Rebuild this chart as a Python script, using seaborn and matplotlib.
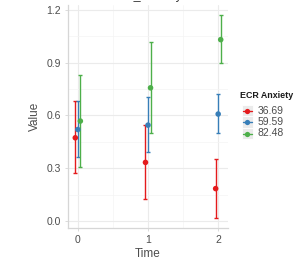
import numpy as np
import pandas as pd
import matplotlib
matplotlib.use("Agg")
import matplotlib.pyplot as plt
import seaborn as sns
from matplotlib.lines import Line2D
from matplotlib.patches import Rectangle

# ---- data ----
times = [0, 1, 2]
groups = ["36.69", "59.59", "82.48"]
val_3669 = [0.473, 0.333, 0.184]
lo_3669 = [0.270, 0.125, 0.017]
hi_3669 = [0.682, 0.545, 0.350]
val_5959 = [0.520, 0.545, 0.608]
lo_5959 = [0.361, 0.390, 0.498]
hi_5959 = [0.682, 0.703, 0.720]
val_8248 = [0.568, 0.757, 1.031]
lo_8248 = [0.306, 0.498, 0.898]
hi_8248 = [0.830, 1.019, 1.170]
colors = ["#E41A1C", "#377EB8", "#4DAF4A"]

rows = []
for g, v, lo, hi in zip(groups, [val_3669, val_5959, val_8248],
                        [lo_3669, lo_5959, lo_8248], [hi_3669, hi_5959, hi_8248]):
    for t, a, b, c in zip(times, v, lo, hi):
        rows.append(dict(Time=t, Group=g, Value=a, lo=b, hi=c))
df = pd.DataFrame(rows)
dodge = {"36.69": -0.036, "59.59": 0.0, "82.48": 0.036}
df["xpos"] = df["Time"] + df["Group"].map(dodge)

sns.set_theme(style="white")
plt.rcParams["font.family"] = ["Liberation Sans", "DejaVu Sans"]

fig = plt.figure(figsize=(2.94, 2.77), dpi=100)
ax = fig.add_axes([68/294, 1 - 228/277, 160/294, 223/277])

pal = dict(zip(groups, colors))
for g in groups:
    d = df[df["Group"] == g]
    ax.errorbar(d["xpos"], d["Value"], yerr=[d["Value"] - d["lo"], d["hi"] - d["Value"]],
                fmt="none", ecolor=pal[g], elinewidth=1.0, capsize=1.2, capthick=1.0, zorder=3)
sns.scatterplot(data=df, x="xpos", y="Value", hue="Group", palette=pal, s=16,
                edgecolor="none", legend=False, ax=ax, zorder=4)

ax.set_xlim(-0.14, 2.14)
ax.set_ylim(-0.04, 1.228)
ax.set_xticks([0, 1, 2])
ax.set_xticklabels(["0", "1", "2"])
ax.set_yticks([0.0, 0.3, 0.6, 0.9, 1.2])
ax.set_yticklabels(["0.0", "0.3", "0.6", "0.9", "1.2"])
ax.set_xticks([0.5, 1.5], minor=True)
ax.set_yticks([0.15, 0.45, 0.75, 1.05], minor=True)
ax.grid(which="major", color="#EBEBEB", linewidth=0.8)
ax.grid(which="minor", color="#F4F4F4", linewidth=0.5)
ax.set_axisbelow(True)
for s in ["top", "right"]:
    ax.spines[s].set_visible(False)
for s in ["left", "bottom"]:
    ax.spines[s].set_color("#D6D6D6")
    ax.spines[s].set_linewidth(0.9)
ax.tick_params(axis="both", which="major", length=2, width=0.6, color="#D6D6D6",
               labelsize=7.5, labelcolor="#4D4D4D", pad=3, left=True, bottom=True)
ax.tick_params(which="minor", length=0)
ax.set_xlabel("Time", fontsize=8.5, color="#4D4D4D", labelpad=2)
ax.set_ylabel("Value", fontsize=8.5, color="#4D4D4D", labelpad=4)

# partially clipped title at top (as in the reference)
fig.text(67/294, 1 + 4/277, "Time x ECR_Anxiety", fontsize=9, color="#333333",
         ha="left", va="center")

# manual legend (ggplot style keys)
W, H = 294, 277
fig.text(240/W, 1 - 95.5/H, "ECR Anxiety", fontsize=6.4, fontweight="bold",
         color="#1A1A1A", ha="left", va="center")
for i, (g, c) in enumerate(zip(groups, colors)):
    yc = 110.7 + i * 11.4
    fig.add_artist(Rectangle((241.5/W, 1 - (yc + 5.7)/H), 11.5/W, 11.4/H,
                             transform=fig.transFigure, facecolor="#EBEBEB",
                             edgecolor="white", linewidth=0.6))
    fig.add_artist(Line2D([243/W, 252/W], [1 - yc/H, 1 - yc/H], transform=fig.transFigure,
                          color=c, linewidth=1.0))
    fig.add_artist(Line2D([247.3/W], [1 - yc/H], transform=fig.transFigure, marker="o",
                          markersize=3.8, color=c, markeredgewidth=0))
    fig.text(258/W, 1 - yc/H, g, fontsize=7.5, color="#4D4D4D", ha="left", va="center")

fig.savefig("out.png", dpi=100)
